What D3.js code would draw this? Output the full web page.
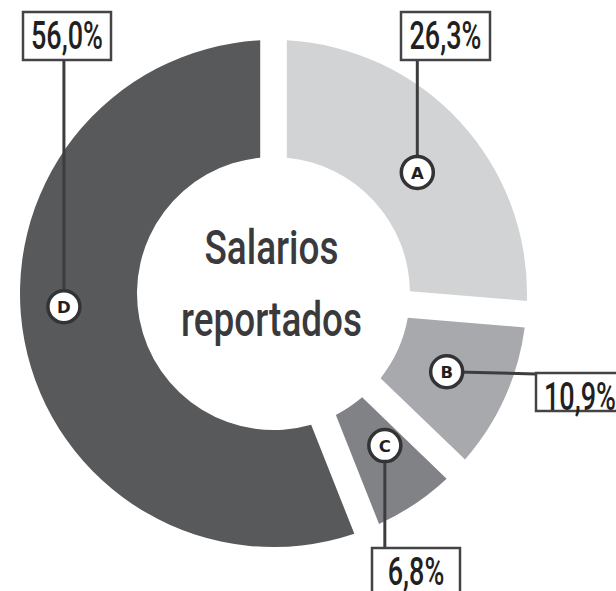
<!DOCTYPE html>
<html>
<head>
<meta charset="UTF-8">
<title>Salarios reportados</title>
<style>
  body{ margin:0; background:#fff; }
  svg{ display:block; }
  .num, .title text{ font-family: Roboto, "DejaVu Sans Condensed", sans-serif; font-weight: 500; }
  .letter{ font-family: "DejaVu Sans", sans-serif; font-weight: bold; }
</style>
</head>
<body>
<svg></svg>
<script src="https://cdn.jsdelivr.net/npm/d3@7/dist/d3.min.js"></script>
<script>

// data
let categories = ["A", "B", "C", "D"];
let shares = [26.3, 10.9, 6.8, 56.0];
let shareLabels = ["26,3%", "10,9%", "6,8%", "56,0%"];
let titleLines = ["Salarios", "reportados"];

let width = 616, height = 591;
let cx = 273.5, cy = 293.5;

let svg = d3.select("svg")
    .attr("width", width)
    .attr("height", height);

let color = d3.scaleOrdinal()
    .domain(categories)
    .range(["#d1d3d4", "#a7a9ac", "#808285", "#58595b"]);

let pie = d3.pie().sort(null).value((d, i) => shares[i]);
let arcs = pie(categories);

let arc = d3.arc()
    .innerRadius(136.5)
    .outerRadius(253.5)
    .padRadius(200)
    .padAngle(0.133);

let g = svg.append("g").attr("transform", "translate(" + cx + "," + cy + ")");

g.selectAll("path.slice")
    .data(arcs)
    .join("path")
    .attr("class", "slice")
    .attr("d", arc)
    .attr("fill", d => color(d.data));

// squeeze a text horizontally so it is w pixels wide (condensed look)
function condense(sel, w) {
    sel.each(function(d) {
        let t = d3.select(this);
        let nat = this.getComputedTextLength();
        let k = w(d) / nat;
        t.attr("transform", t.attr("transform") + " scale(" + k + ",1)");
    });
}

// centre title
let title = g.append("g").attr("class", "title");
title.selectAll("text")
    .data(titleLines)
    .join("text")
    .attr("transform", (d, i) => "translate(-2," + (i == 0 ? -30 : 42) + ")")
    .attr("text-anchor", "middle")
    .attr("font-size", 48)
    .attr("fill", "#3a3a3c")
    .text(d => d)
    .call(condense, d => d == "Salarios" ? 134 : 181);

// callouts: marker angle (deg) / radius, leader direction, box x y w h
let callouts = [
    {angle: 49.9,  r: 188,   dir: "up",    box: [401, 12, 89, 48]},
    {angle: 114.3, r: 190,   dir: "right", box: [536, 373, 88, 38]},
    {angle: 143.8, r: 188.5, dir: "down",  box: [372, 548, 88, 48]},
    {angle: 266.4, r: 210,   dir: "up",    box: [23, 12, 88, 48]}
];

let marks = callouts.map((c, i) => {
    let a = c.angle * Math.PI / 180;
    return {
        cat: categories[i],
        label: shareLabels[i],
        x: cx + c.r * Math.sin(a),
        y: cy - c.r * Math.cos(a),
        dir: c.dir,
        bx: c.box[0], by: c.box[1], bw: c.box[2], bh: c.box[3]
    };
});

let ann = svg.append("g").attr("class", "callouts");

ann.selectAll("line")
    .data(marks)
    .join("line")
    .attr("x1", d => d.x)
    .attr("y1", d => d.y)
    .attr("x2", d => d.dir == "right" ? d.bx : d.x)
    .attr("y2", d => d.dir == "up" ? d.by + d.bh : d.dir == "down" ? d.by : d.by + 1)
    .attr("stroke", "#3d3d3f")
    .attr("stroke-width", 3);

ann.selectAll("rect")
    .data(marks)
    .join("rect")
    .attr("x", d => d.bx)
    .attr("y", d => d.by)
    .attr("width", d => d.bw)
    .attr("height", d => d.bh)
    .attr("fill", "#fff")
    .attr("stroke", "#444446")
    .attr("stroke-width", 2.5);

// one squeeze factor for all numbers, set so "26,3%" is ~72px wide
let nums = ann.selectAll("text.num")
    .data(marks)
    .join("text")
    .attr("class", "num")
    .attr("transform", d => "translate(" + (d.bx + d.bw / 2) + "," + (d.by + 36.5) + ")")
    .attr("text-anchor", "middle")
    .attr("font-size", 38)
    .attr("fill", "#231f20")
    .text(d => d.label);
let kNum = 72 / nums.filter(d => d.cat == "A").node().getComputedTextLength();
nums.attr("transform", d => "translate(" + (d.bx + d.bw / 2) + "," + (d.by + 36.5) + ") scale(" + kNum + ",1)");

let dots = ann.selectAll("g.dot")
    .data(marks)
    .join("g")
    .attr("class", "dot")
    .attr("transform", d => "translate(" + d.x + "," + d.y + ")");

dots.append("circle")
    .attr("r", 16)
    .attr("fill", "#fff")
    .attr("stroke", "#333335")
    .attr("stroke-width", 3.5);

dots.append("text")
    .attr("class", "letter")
    .attr("text-anchor", "middle")
    .attr("dy", "0.37em")
    .attr("font-size", 16.5)
    .attr("fill", "#231f20")
    .text(d => d.cat);

</script>
</body>
</html>
